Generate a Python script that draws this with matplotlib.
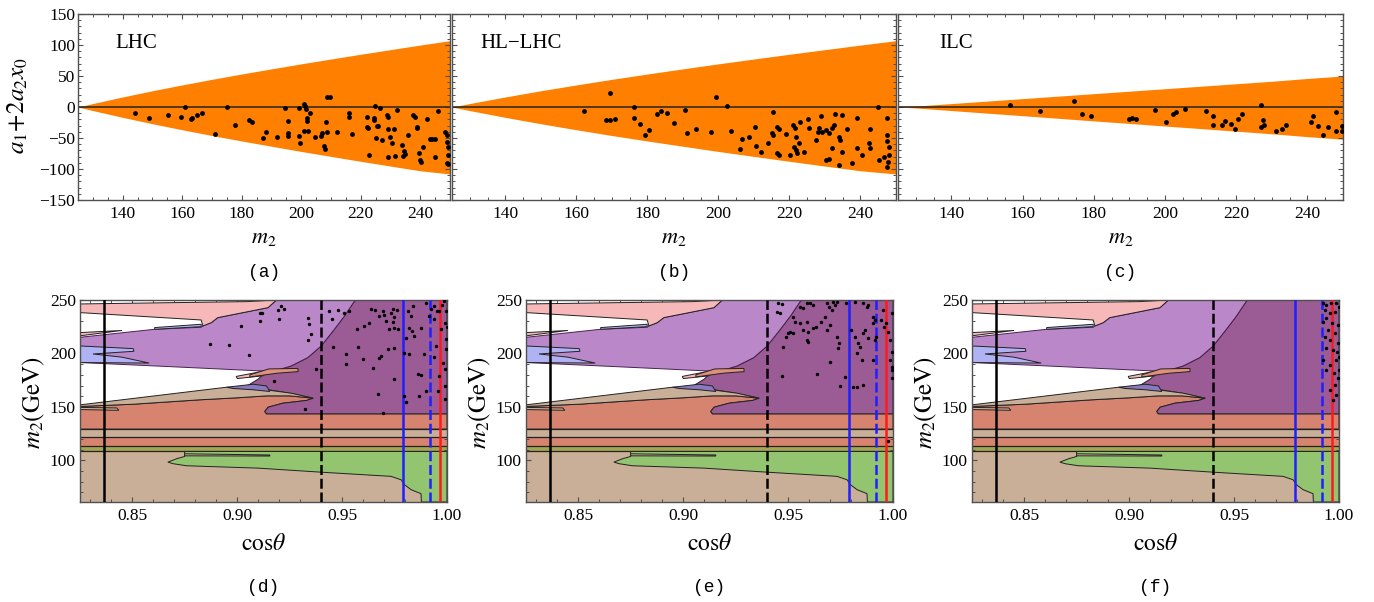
import matplotlib
matplotlib.use("Agg")
import matplotlib.pyplot as plt
import numpy as np
from matplotlib.ticker import MultipleLocator

plt.rcParams['font.family'] = ['Liberation Serif', 'DejaVu Serif']
plt.rcParams['mathtext.fontset'] = 'stix'

W, H = 1374, 602

# ---------------- top row: a1+2a2x0 vs m2 ----------------
m2_edge = [125, 130, 140, 150, 160, 170, 180, 190, 200, 210, 220, 230, 240, 250]
lhc_up = [0, 5.6, 16.2, 26.2, 35.6, 44.6, 53.2, 61.5, 69.6, 77.4, 85.1, 92.5, 99.9, 107.0]
lhc_lo = [0, -5.8, -16.7, -27.0, -36.7, -46.0, -54.8, -63.3, -71.7, -79.7, -87.6, -95.3, -102.9, -108.0]
ilc_up = [0, 1.5, 5.5, 9.5, 13.5, 17.5, 21.5, 25.5, 29.5, 33.5, 37.5, 41.5, 46.0, 50.0]
ilc_lo = [0, -1.6, -5.7, -9.9, -14.0, -18.2, -22.4, -26.5, -30.7, -34.8, -39.0, -43.2, -47.8, -52.0]

lhc_pts = [(144.2, -9.1), (148.8, -18.3), (155.2, -12.9), (159.7, -16.1), (161.0, 0.5), (162.9, -19.9),
           (163.3, -18.3), (165.0, -13.4), (166.6, -9.1), (171.1, -43.5), (175.0, -0.5), (177.8, -28.5),
           (182.3, -21.0), (183.6, -24.7), (187.0, -50.5), (188.1, -40.9), (191.8, -48.4), (194.6, -2.2),
           (195.4, -22.0), (195.7, -42.5), (195.7, -46.8), (199.1, -2.2), (199.4, -46.8), (199.6, -58.6),
           (201.0, 4.8), (201.3, 2.2), (201.7, -3.8), (201.9, -18.3), (202.1, -22.0), (203.0, -10.2),
           (200.8, -38.2), (202.4, -38.2), (204.7, -47.8), (206.6, -46.8), (206.9, -42.5), (207.5, -62.4),
           (208.0, -68.3), (208.4, -23.7), (208.8, -39.8), (208.6, 16.7), (209.7, 16.7), (211.9, -39.8),
           (216.2, -9.1), (216.2, -16.7), (217.2, -44.1), (222.0, -16.7), (222.2, -31.7), (222.6, -34.4),
           (222.9, -77.4), (224.3, -21.0), (224.5, -18.3), (224.8, 1.6), (225.4, -30.6), (225.9, -30.6),
           (225.2, -50.5), (226.5, -2.2), (227.1, -53.2), (228.7, -12.9), (229.3, -15.6), (229.3, -36.0),
           (229.0, -80.1), (229.8, -47.8), (230.4, -58.6), (231.2, -36.0), (231.5, -79.0), (232.1, -4.8),
           (233.8, -61.8), (234.3, -79.0), (234.7, -71.0), (234.9, -75.8), (236.0, -45.2), (237.7, -12.9),
           (238.2, -16.7), (238.8, -31.7), (238.8, -34.4), (239.7, -73.7), (239.9, -85.5), (240.1, -89.2),
           (241.0, -64.0), (242.2, -19.9), (243.3, -52.1), (244.1, -52.1), (244.8, -52.1), (245.0, -80.1),
           (246.1, -5.9), (248.3, -39.8), (248.9, -45.2), (248.9, -55.9), (249.4, -64.0), (249.4, -77.4),
           (248.9, -90.9), (249.4, -92.5)]

hl_pts = [(169.4, 23.1), (162.3, -5.9), (168.3, -21.5), (169.6, -21.0), (170.8, -19.4), (176.3, -0.5),
          (176.3, -17.7), (178.0, -28.0), (179.4, -45.2), (180.5, -37.1), (182.6, -11.3), (183.8, -5.9),
          (185.5, -9.1), (187.6, -25.3), (190.6, -5.4), (191.2, -42.5), (193.8, -34.9), (198.0, -40.3),
          (199.4, 15.6), (202.3, 1.1), (203.6, -38.7), (206.0, -68.3), (206.6, -52.1), (208.7, -47.8),
          (210.2, -31.7), (210.5, -62.9), (211.9, -72.0), (213.9, -58.6), (215.4, -7.5), (215.1, -42.5),
          (215.4, -45.2), (216.4, -74.7), (217.0, -77.4), (216.6, -31.7), (217.0, -34.9), (218.9, -44.1),
          (220.1, -78.0), (221.0, -29.0), (221.5, -34.4), (221.8, -47.8), (221.3, -64.0), (221.9, -69.4),
          (222.2, -74.7), (222.7, -57.5), (223.0, -24.7), (224.1, -72.0), (225.2, -19.9), (225.6, -34.4),
          (227.4, -53.2), (227.9, -39.8), (228.3, -34.4), (228.8, -14.5), (229.3, -40.3), (230.2, -37.1),
          (231.1, -42.5), (232.1, -34.4), (232.5, -29.0), (230.4, -85.5), (231.0, -84.4), (232.1, -66.7),
          (232.7, -11.3), (234.7, -12.9), (233.9, -48.9), (234.1, -53.2), (234.9, -72.0), (233.9, -93.5),
          (236.3, -36.0), (237.7, -90.9), (238.9, -18.3), (239.1, -66.7), (240.3, -77.4), (242.4, -57.5),
          (242.8, -66.7), (242.8, -36.0), (245.0, -0.5), (245.3, -85.5), (246.6, -80.1), (247.5, -18.3),
          (247.5, -45.2), (247.5, -54.3), (248.0, -64.0), (247.8, -88.2), (247.5, -97.3), (248.0, -77.4)]

ilc_pts = [(156.6, 2.7), (164.9, -7.0), (174.4, 9.1), (176.6, -10.8), (179.1, -14.0), (189.9, -19.4),
           (190.8, -17.7), (191.8, -19.4), (197.3, -5.4), (200.3, -24.2), (202.2, -10.8), (203.0, -8.6),
           (205.5, -3.2), (211.4, -7.0), (213.6, -14.0), (213.6, -28.5), (216.0, -28.5), (216.9, -23.1),
           (218.4, -28.0), (219.8, -34.9), (220.5, -19.4), (221.7, -10.8), (227.1, 2.7), (227.4, -21.5),
           (227.9, -28.5), (227.0, -32.8), (231.3, -38.2), (233.0, -34.9), (234.1, -28.5), (241.1, -24.7),
           (241.7, -14.0), (243.1, -31.2), (244.3, -45.7), (245.7, -32.8), (247.9, -8.6), (247.9, -38.2),
           (249.8, -39.2), (249.8, -30.1)]

top_names = ['LHC', 'HL\u2212LHC', 'ILC']
top_letters = ['(a)', '(b)', '(c)']

# ---------------- bottom row: m2 vs cos(theta) regions ----------------
band_lo = [61.0, 108.3, 113.0, 121.8, 129.2]
band_hi = [108.3, 113.0, 121.8, 129.2, 143.5]
band_col = ['#c9ae98', '#a3a650', '#d6836f', '#c9ae98', '#d6836f']
band_lines = [108.3, 113.0, 121.8, 129.2]

green_x = [0.8749, 1.0, 1.0, 0.9878, 0.9876, 0.9829, 0.9797, 0.9781, 0.9733, 0.9416, 0.9098, 0.8758,
           0.8695, 0.8669, 0.8711, 0.8749]
green_y = [108.3, 108.3, 61.0, 61.0, 68.8, 72.5, 77.2, 81.8, 85.0, 88.7, 92.7, 94.9, 96.8, 98.3, 101.5, 103.6]
sliver_x = [0.8749, 0.9155, 0.9155, 0.8749]
sliver_y = [106.1, 105.0, 104.0, 104.2]

salmon_x = [0.825, 0.8504, 0.882, 0.900, 0.9139, 0.925, 0.9362, 0.933, 0.9219, 0.9147, 0.9131, 0.9139,
            1.0, 1.0, 0.825]
salmon_y = [150.4, 152.5, 156.6, 158.5, 160.3, 160.3, 158.1, 156.0, 153.5, 149.7, 145.7, 143.5,
            143.5, 129.2, 129.2]

dark_x = [0.957, 1.0, 1.0, 0.9139, 0.9131, 0.9147, 0.9219, 0.933, 0.9362, 0.925, 0.915, 0.905, 0.910,
          0.9139, 0.9177, 0.9257, 0.9336, 0.9400, 0.9463, 0.9511, 0.9559]
dark_y = [250, 250, 143.5, 143.5, 145.7, 149.7, 153.5, 156.0, 158.1, 162.8, 166, 170, 176,
          183.4, 183.6, 188.3, 196.1, 207.0, 222.6, 235.0, 249.0]

light_x = [0.825, 0.8606, 0.8828, 0.8836, 0.8876, 0.8907, 0.9146, 0.9187, 0.957, 0.9559, 0.9511, 0.9463,
           0.9400, 0.9336, 0.9257, 0.9177, 0.9139, 0.8663, 0.825]
light_y = [215.1, 222.6, 224.5, 225.7, 228.8, 233.5, 242.8, 250, 250, 249.0, 235.0, 222.6,
           207.0, 196.1, 188.3, 183.6, 183.4, 187.8, 191.5]

pink_x = [0.825, 0.905, 0.9187, 0.9146, 0.8907, 0.8876, 0.8836, 0.8828, 0.825]
pink_y = [246.3, 248.5, 250, 242.8, 233.5, 228.8, 225.7, 231.3, 238.2]

pinkbit_x = [0.825, 0.845, 0.825]
pinkbit_y = [219.5, 221.5, 216.5]
bluebit_x = [0.8606, 0.8828, 0.8828, 0.8606]
bluebit_y = [224.2, 227.3, 225.1, 222.6]

blue_x = [0.825, 0.8504, 0.8507, 0.8312, 0.845, 0.858, 0.825]
blue_y = [207.0, 204.5, 202.0, 199.5, 196.5, 191.0, 191.5]

tan_x = [0.825, 0.8949, 0.9139, 0.9257, 0.9362, 0.925, 0.9139, 0.900, 0.882, 0.8504, 0.825]
tan_y = [151.9, 168.4, 165.9, 162.8, 158.1, 160.3, 160.3, 158.5, 156.6, 152.5, 150.4]

blob_x = [0.8949, 0.9076, 0.9139, 0.9155, 0.9076, 0.898]
blob_y = [168.4, 171.2, 169.6, 164.4, 166.0, 167.2]

ptongue_x = [0.8995, 0.910, 0.9155, 0.912, 0.900]
ptongue_y = [178.5, 182.5, 183.5, 179.0, 176.5]
stongue_x = [0.906, 0.915, 0.9289, 0.929, 0.919, 0.906]
stongue_y = [180.0, 185.5, 186.0, 183.0, 181.5, 178.0]

notch_x = [0.825, 0.8425, 0.8435, 0.825]
notch_y = [149.5, 149.0, 146.8, 147.5]

vline_x = [0.8365, 0.94, 0.979, 0.9917, 0.9968]
vline_c = ['black', 'black', '#1f1fff', '#1f1fff', '#ff1a1a']
vline_ls = ['-', (0, (4, 1.5)), '-', (0, (4, 1.5)), '-']

d_pts = [(0.9107, 238.1), (0.9119, 238.1), (0.9107, 230.3), (0.9019, 225.6), (0.8868, 208.6), (0.8959, 207.7),
         (0.9054, 199.0), (0.9193, 240.6), (0.9209, 244.4), (0.9225, 241.2), (0.9201, 231.9), (0.9336, 233.5),
         (0.9344, 227.2), (0.9352, 217.9), (0.9336, 212.6), (0.9376, 185.8), (0.9177, 174.3), (0.9451, 231.9),
         (0.9455, 206.4), (0.9439, 239.7), (0.9479, 240.6), (0.9508, 238.1), (0.9535, 239.7), (0.9519, 199.2),
         (0.9519, 189.9), (0.9571, 222.6), (0.9574, 206.4), (0.9600, 194.5), (0.9606, 225.7), (0.9630, 228.8),
         (0.9638, 241.2), (0.9657, 240.6), (0.9678, 235.0), (0.9694, 239.7), (0.9701, 235.6), (0.9709, 230.3),
         (0.9646, 186.8), (0.9678, 196.1), (0.9686, 197.7), (0.9717, 204.5), (0.9746, 205.4), (0.9741, 241.2),
         (0.9733, 237.5), (0.9749, 234.4), (0.9762, 240.6), (0.9741, 229.4), (0.9749, 224.1), (0.9765, 222.6),
         (0.9725, 222.6), (0.9673, 161.8), (0.9749, 175.8), (0.9797, 200.8), (0.9821, 199.2), (0.9805, 214.8),
         (0.9821, 224.1), (0.9832, 221.0), (0.9841, 216.3), (0.9876, 224.1), (0.9860, 180.5), (0.9876, 179.6),
         (0.9889, 199.2), (0.9900, 247.5), (0.9924, 241.2), (0.9916, 235.0), (0.9940, 231.9), (0.9940, 244.4),
         (0.9952, 239.7), (0.9948, 207.0), (0.9940, 197.0), (0.9963, 239.7), (0.9971, 222.6), (0.9963, 179.0),
         (0.9979, 191.4), (0.9955, 165.0), (0.9836, 244.4), (0.9829, 235.0), (0.9900, 165.0), (0.9797, 160.3),
         (0.9868, 160.3), (0.9813, 239.7), (0.9990, 228.8), (0.9995, 213.2), (0.9995, 203.9), (0.9990, 169.6),
         (0.9321, 147.9), (0.9695, 143.9), (0.9806, 154.1), (0.9995, 240.0), (0.9998, 225.0), (0.9990, 185.0),
         (0.9985, 249.0), (0.9975, 245.0), (0.9992, 157.0)]

e_pts = [(0.9453, 246.9), (0.9472, 246.3), (0.9445, 239.1), (0.9460, 237.5), (0.9524, 234.4), (0.9532, 229.8),
         (0.9476, 206.4), (0.9473, 179.0), (0.9492, 215.8), (0.9500, 218.9), (0.9508, 220.4), (0.9524, 218.9),
         (0.9556, 243.8), (0.9572, 242.2), (0.9588, 246.9), (0.9603, 247.5), (0.9619, 245.3), (0.9556, 228.2),
         (0.9569, 222.0), (0.9588, 229.8), (0.9596, 220.4), (0.9619, 223.5), (0.9635, 225.1), (0.9588, 212.6),
         (0.9596, 211.1), (0.9639, 180.9), (0.9659, 229.8), (0.9675, 234.4), (0.9683, 222.0), (0.9699, 226.6),
         (0.9683, 246.9), (0.9696, 243.8), (0.9707, 240.7), (0.9715, 248.4), (0.9723, 245.3), (0.9731, 248.4),
         (0.9731, 215.8), (0.9743, 209.5), (0.9739, 204.8), (0.9699, 192.4), (0.9747, 169.7), (0.9770, 178.4),
         (0.9778, 246.9), (0.9802, 222.0), (0.9818, 215.8), (0.9834, 209.5), (0.9826, 200.2), (0.9842, 206.4),
         (0.9850, 194.0), (0.9858, 218.9), (0.9866, 222.0), (0.9882, 214.2), (0.9810, 169.0), (0.9826, 168.4),
         (0.9858, 170.6), (0.9874, 243.8), (0.9882, 245.3), (0.9858, 246.9), (0.9905, 234.4), (0.9913, 231.3),
         (0.9905, 228.2), (0.9921, 215.8), (0.9913, 212.6), (0.9905, 194.0), (0.9953, 240.7), (0.9945, 231.3),
         (0.9956, 225.1), (0.9969, 228.2), (0.9977, 220.4), (0.9985, 212.6), (0.9993, 237.5), (0.9997, 201.7),
         (0.9995, 187.7), (0.9995, 176.8), (0.9993, 184.6), (0.9988, 194.0), (0.9818, 248.4), (0.9974, 118.3)]

f_pts = [(0.9924, 246.9), (0.9940, 245.3), (0.9964, 247.5), (0.9988, 246.9), (0.9998, 243.8), (0.9932, 240.7),
         (0.9956, 237.5), (0.9980, 239.1), (0.9940, 232.9), (0.9924, 229.8), (0.9969, 228.2), (0.9996, 226.6),
         (0.9948, 222.0), (0.9932, 215.8), (0.9980, 218.9), (0.9959, 212.6), (0.9996, 209.5), (0.9940, 204.8),
         (0.9972, 203.3), (0.9991, 201.7), (0.9999, 197.1), (0.9988, 194.0), (0.9956, 189.3), (0.9940, 184.6),
         (0.9975, 181.5), (0.9996, 176.8), (0.9980, 170.6), (0.9956, 165.9), (0.9988, 161.3), (0.9972, 156.6),
         (0.9998, 184.6), (0.9924, 194.0)]

bottom_letters = ['(d)', '(e)', '(f)']

fig = plt.figure(figsize=(W / 100, H / 100), dpi=100)


def px_axes(x0, x1, y0, y1):
    return fig.add_axes([x0 / W, 1 - y1 / H, (x1 - x0) / W, (y1 - y0) / H])


def ftext(px, py, s, **kw):
    fig.text(px / W, 1 - py / H, s, ha='center', va='center', **kw)


def frame(ax):
    for sp in ax.spines.values():
        sp.set_color('#505050')
        sp.set_linewidth(1.0)
    ax.tick_params(which='both', direction='in', top=True, right=True, color='#505050', labelsize=12.5)
    ax.tick_params(which='major', length=3.6, width=0.8)
    ax.tick_params(which='minor', length=1.9, width=0.7)


# top row
top_boxes = [(78, 450), (452, 896), (898, 1343)]
top_up = [lhc_up, lhc_up, ilc_up]
top_lo = [lhc_lo, lhc_lo, ilc_lo]
top_pts = [lhc_pts, hl_pts, ilc_pts]
name_dx = [0.10, 0.063, 0.092]
for i, (x0, x1) in enumerate(top_boxes):
    ax = px_axes(x0, x1, 14, 200)
    ax.fill_between(m2_edge, top_lo[i], top_up[i], color='#ff7f00', lw=0, zorder=1)
    ax.axhline(0, color='#3a2a1a', lw=1.2, zorder=2)
    px_, py_ = np.array(top_pts[i]).T
    ax.scatter(px_, py_, s=12, color='black', lw=0, zorder=3)
    ax.set_xlim(125, 250)
    ax.set_ylim(-150, 150)
    ax.set_xticks([140, 160, 180, 200, 220, 240])
    ax.set_yticks([-150, -100, -50, 0, 50, 100, 150])
    ax.xaxis.set_minor_locator(MultipleLocator(5))
    ax.yaxis.set_minor_locator(MultipleLocator(10))
    frame(ax)
    ax.tick_params(axis='x', pad=4)
    ax.tick_params(axis='y', pad=2)
    if i > 0:
        ax.set_yticklabels([])
    ax.text(name_dx[i], 0.84, top_names[i], transform=ax.transAxes, fontsize=15, va='center')
    cx = (x0 + x1) / 2
    ftext(cx, 238, r'$m_2$', fontsize=16)
    ftext(cx, 272, top_letters[i], fontsize=13, family='Liberation Mono')

ftext(18, 106, r'$a_1\!+\!2a_2x_0$', fontsize=18, rotation=90)


def draw_regions(ax):
    lim = [0.825, 1.0]
    for lo, hi, c in zip(band_lo, band_hi, band_col):
        ax.fill_between(lim, lo, hi, facecolor=c, lw=0, zorder=1)
    ec = dict(edgecolor='#222222', lw=0.7, zorder=2)
    ax.fill(salmon_x, salmon_y, facecolor='#d6836f', **ec)
    for yv in band_lines:
        ax.axhline(yv, color='#222222', lw=0.9, zorder=2)
    ax.fill(green_x, green_y, facecolor='#93c46f', **ec)
    ax.fill(sliver_x, sliver_y, facecolor='#c9ae98', **ec)
    ax.fill(dark_x, dark_y, facecolor='#9b5b95', **ec)
    ax.fill(light_x, light_y, facecolor='#ba88c9', edgecolor='#4a2050', lw=0.7, zorder=2)
    ax.fill(pink_x, pink_y, facecolor='#f6b8b8', **ec)
    ax.fill(pinkbit_x, pinkbit_y, facecolor='#f6b8b8', **ec)
    ax.fill(bluebit_x, bluebit_y, facecolor='#b0b3f3', **ec)
    ax.fill(blue_x, blue_y, facecolor='#b0b3f3', **ec)
    ax.fill(tan_x, tan_y, facecolor='#c9ae98', **ec)
    ax.fill(blob_x, blob_y, facecolor='#8a78c0', **ec)
    ax.fill(ptongue_x, ptongue_y, facecolor='#f6b8b8', **ec)
    ax.fill(stongue_x, stongue_y, facecolor='#e0907a', **ec)
    ax.fill(notch_x, notch_y, facecolor='#c9ae98', **ec)
    for xv, c, ls in zip(vline_x, vline_c, vline_ls):
        ax.axvline(xv, color=c, ls=ls, lw=1.8, zorder=3)


bot_boxes = [(80, 447), (526, 893), (972, 1339)]
bot_pts = [d_pts, e_pts, f_pts]
for i, (x0, x1) in enumerate(bot_boxes):
    ax = px_axes(x0, x1, 300, 502)
    ax.set_facecolor('white')
    draw_regions(ax)
    cx_, cy_ = np.array(bot_pts[i]).T
    ax.scatter(cx_, cy_, s=6, color='black', lw=0, zorder=4)
    ax.set_xlim(0.825, 1.0)
    ax.set_ylim(61, 250)
    ax.set_xticks([0.85, 0.90, 0.95, 1.00])
    ax.set_xticklabels(['0.85', '0.90', '0.95', '1.00'])
    ax.set_yticks([100, 150, 200, 250])
    ax.xaxis.set_minor_locator(MultipleLocator(0.01))
    ax.yaxis.set_minor_locator(MultipleLocator(10))
    frame(ax)
    ax.tick_params(axis='x', pad=4)
    ax.tick_params(axis='y', pad=3)
    cx = (x0 + x1) / 2
    ftext(cx, 545, r'$\mathrm{cos}\theta$', fontsize=17)
    ftext(cx, 587, bottom_letters[i], fontsize=13, family='Liberation Mono')
    ftext(x0 - 46, 403, r'$m_2\mathrm{(GeV)}$', fontsize=18, rotation=90)

fig.savefig('out.png', dpi=100)
